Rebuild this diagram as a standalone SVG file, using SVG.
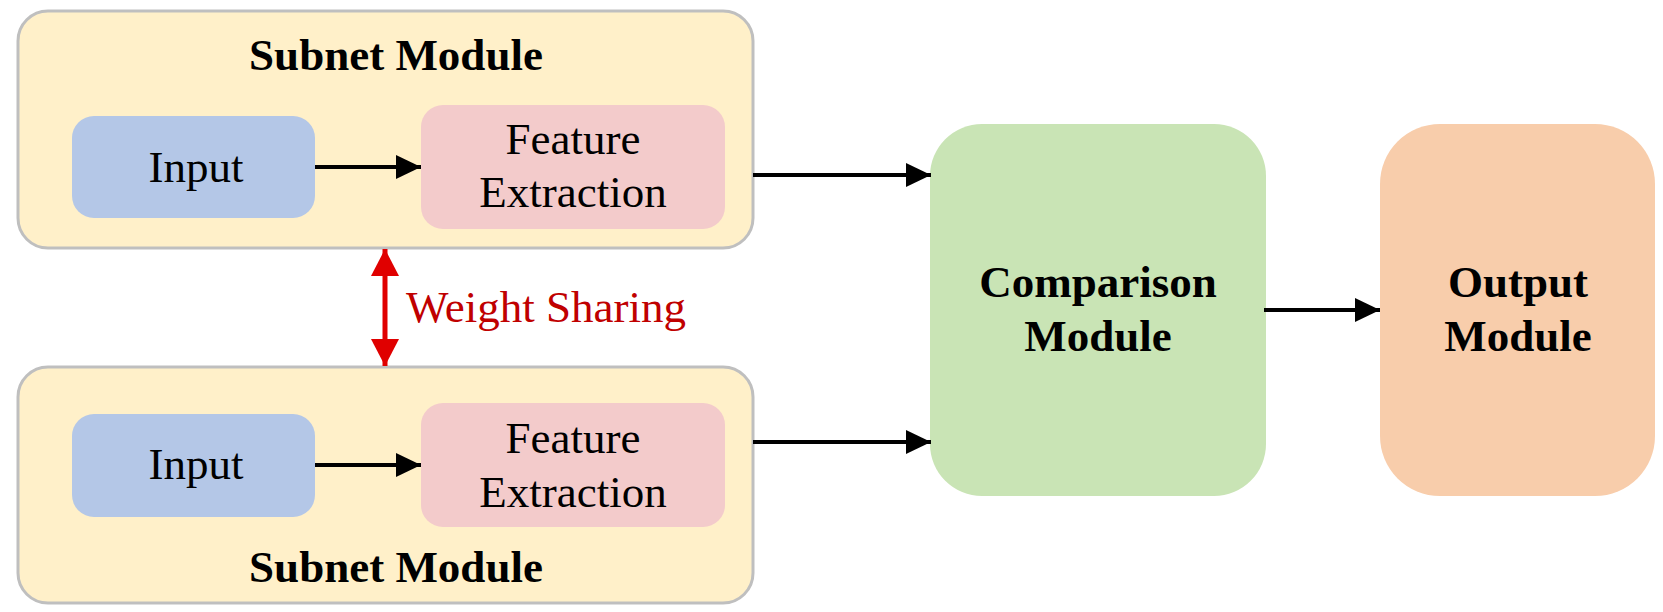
<svg xmlns="http://www.w3.org/2000/svg" width="1663" height="612" viewBox="0 0 1663 612">
<style>
text{font-family:"Liberation Serif","Times New Roman",serif;font-size:45px;fill:#000;text-anchor:middle}
.b{font-weight:bold}
.subnet{fill:#FFF0C9;stroke:#BFBFBF;stroke-width:3}
.input{fill:#B4C7E7}
.feat{fill:#F3CBCB}
.ws{fill:#C00000;text-anchor:start}
.conn{stroke:#000;stroke-width:4;fill:none}
</style>
<defs>
<marker id="ah" markerUnits="userSpaceOnUse" markerWidth="25" markerHeight="24" refX="25" refY="12" orient="auto">
<path d="M0,0 L25,12 L0,24 z" fill="#000"/>
</marker>
<marker id="rh" markerUnits="userSpaceOnUse" markerWidth="27" markerHeight="28" refX="27" refY="14" orient="auto-start-reverse">
<path d="M0,0 L27,14 L0,28 z" fill="#E00000"/>
</marker>
</defs>
<rect width="1663" height="612" fill="#fff"/>
<g id="subnet-top">
<rect class="subnet" x="18" y="11" width="735" height="237" rx="30"/>
<text class="b" x="396" y="70">Subnet Module</text>
</g>
<g id="input-top">
<rect class="input" x="72" y="116" width="243" height="102" rx="22"/>
<text x="196" y="182">Input</text>
</g>
<g id="feature-top">
<rect class="feat" x="421" y="105" width="304" height="124" rx="22"/>
<text x="573" y="154">Feature</text>
<text x="573" y="207">Extraction</text>
</g>
<g id="subnet-bottom">
<rect class="subnet" x="18" y="367" width="735" height="236" rx="30"/>
<text class="b" x="396" y="582">Subnet Module</text>
</g>
<g id="input-bottom">
<rect class="input" x="72" y="414" width="243" height="103" rx="22"/>
<text x="196" y="479">Input</text>
</g>
<g id="feature-bottom">
<rect class="feat" x="421" y="403" width="304" height="124" rx="22"/>
<text x="573" y="453">Feature</text>
<text x="573" y="507">Extraction</text>
</g>
<g id="comparison">
<rect x="930" y="124" width="336" height="372" rx="52" fill="#C9E4B5"/>
<text class="b" x="1098" y="297">Comparison</text>
<text class="b" x="1098" y="351">Module</text>
</g>
<g id="output">
<rect x="1380" y="124" width="275" height="372" rx="60" fill="#F8CDAB"/>
<text class="b" x="1518" y="297">Output</text>
<text class="b" x="1518" y="351">Module</text>
</g>
<g id="connectors">
<line class="conn" x1="315" y1="167" x2="421" y2="167" marker-end="url(#ah)"/>
<line class="conn" x1="315" y1="465" x2="421" y2="465" marker-end="url(#ah)"/>
<line class="conn" x1="753" y1="175" x2="931" y2="175" marker-end="url(#ah)"/>
<line class="conn" x1="753" y1="442" x2="931" y2="442" marker-end="url(#ah)"/>
<line class="conn" x1="1264" y1="310" x2="1380" y2="310" marker-end="url(#ah)"/>
<line x1="385" y1="249" x2="385" y2="366" stroke="#E00000" stroke-width="5" marker-start="url(#rh)" marker-end="url(#rh)"/>
<text class="ws" x="406" y="322">Weight Sharing</text>
</g>
</svg>
